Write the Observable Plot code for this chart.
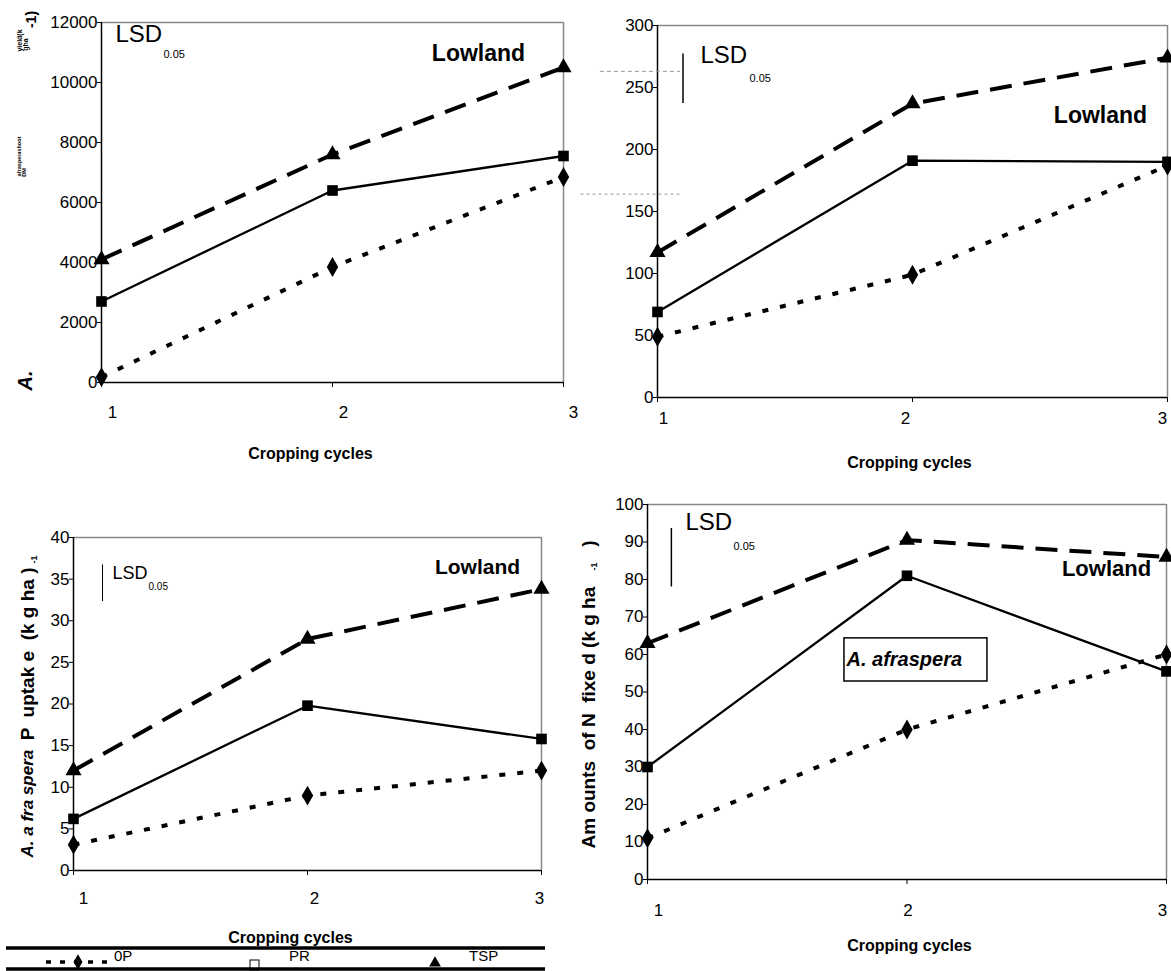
<!DOCTYPE html>
<html>
<head>
<meta charset="utf-8">
<script src="https://cdn.jsdelivr.net/npm/d3@7"></script>
<script src="https://cdn.jsdelivr.net/npm/@observablehq/plot@0.6"></script>
<style>
  html, body { margin: 0; padding: 0; background: #fff; }
  #wrap { position: relative; width: 1171px; height: 971px; overflow: hidden; font-family: "Liberation Sans", Arial, sans-serif; }
  .panel { position: absolute; }
  .panel svg { overflow: visible; }
  .panel svg text { white-space: pre; }
  #legend { position: absolute; left: 0; top: 0; pointer-events: none; }
</style>
</head>
<body>
<div id="wrap"></div>
<script>
// ---------------- data ----------------
const cycles = [1, 2, 3];
const treatments = ["0P", "PR", "TSP"];

// Panel A: A. afraspera shoot DM yield (kg ha-1)
const yieldTicks = [0, 2000, 4000, 6000, 8000, 10000, 12000];
const yield0P  = [180, 3850, 6850];
const yieldPR  = [2700, 6400, 7550];
const yieldTSP = [4100, 7600, 10500];

// Panel B (top right)
const panelBTicks = [0, 50, 100, 150, 200, 250, 300];
const panelB0P  = [49, 99, 187];
const panelBPR  = [69, 191, 190];
const panelBTSP = [117, 237, 274];
const panelBLSD = [237, 277];

// Panel C: A. afraspera P uptake (kg ha-1)
const uptakeTicks = [0, 5, 10, 15, 20, 25, 30, 35, 40];
const uptake0P  = [3.1, 9.0, 12.0];
const uptakePR  = [6.2, 19.8, 15.8];
const uptakeTSP = [12.0, 27.8, 33.8];
const uptakeLSD = [32.3, 36.7];

// Panel D: Amounts of N fixed (kg ha-1)
const nfixTicks = [0, 10, 20, 30, 40, 50, 60, 70, 80, 90, 100];
const nfix0P  = [11, 40, 60];
const nfixPR  = [30, 81, 55.5];
const nfixTSP = [63, 90.5, 86];
const nfixLSD = [78, 93.6];

// ---------------- helpers ----------------
const FONT = "Liberation Sans, Arial, sans-serif";
const tidy = (a, b, c) => [a, b, c].flatMap((vals, i) =>
  vals.map((v, j) => ({cycle: cycles[j], treatment: treatments[i], value: v})));

const lineStyle = {
  "0P":  {strokeWidth: 4,   strokeDasharray: "6,12"},
  "PR":  {strokeWidth: 2.3, strokeDasharray: null},
  "TSP": {strokeWidth: 4,   strokeDasharray: "22,12"}
};

function makePanel(P) {
  const rows = tidy(...P.series);
  const note = (text, px, py, o = {}) => Plot.text([text], {
    text: d => d, frameAnchor: "top-left",
    dx: px - P.left - P.mL, dy: py - P.top - P.mT,
    textAnchor: "middle", lineAnchor: "middle",
    fontSize: 16, fill: "#000", fontFamily: FONT, ...o
  });
  const xLabel = (c, dx) => Plot.text([String(c)], {
    text: d => d, x: () => c, frameAnchor: "bottom", dx, dy: P.xLabelDy,
    lineAnchor: "middle", textAnchor: "middle",
    fontSize: 17, fill: "#000", fontFamily: FONT
  });
  const marks = [
    Plot.ruleY([P.yMax], {stroke: "#888", strokeWidth: 1.5}),
    Plot.ruleX([3], {stroke: "#888", strokeWidth: 1.5}),
    Plot.ruleX([1], {stroke: "#000", strokeWidth: 1.5}),
    Plot.ruleY([0], {stroke: "#000", strokeWidth: 1.5}),
    Plot.axisY({ticks: P.yTicks, tickSize: 4, tickPadding: 0, label: null, fontSize: 17, tickFormat: d => String(d)}),
    Plot.axisX({ticks: cycles, tickSize: 5, tickFormat: () => "", label: null}),
    ...cycles.map((c, i) => xLabel(c, P.xLabelDx[i])),
    ...(P.extraBefore ? P.extraBefore(note) : []),
    ...treatments.map(t => Plot.line(rows.filter(d => d.treatment === t), {
      x: "cycle", y: "value", stroke: "#000", strokeLinecap: "butt", strokeLinejoin: "miter",
      ...lineStyle[t]
    })),
    Plot.dot(rows, {x: "cycle", y: "value", symbol: "treatment", fill: "#000", stroke: null, r: 6}),
    ...(P.extra ? P.extra(note) : [])
  ];
  const svg = Plot.plot({
    width: P.width, height: P.height,
    marginLeft: P.mL, marginRight: P.mR, marginTop: P.mT, marginBottom: P.mB,
    x: {domain: [1, 3], axis: null},
    y: {domain: [0, P.yMax], axis: null},
    symbol: {domain: treatments, range: ["diamond", "square", "triangle"]},
    style: {background: "transparent", overflow: "visible", fontFamily: FONT, fontSize: "17px", color: "#000"},
    marks
  });
  const div = document.createElement("div");
  div.className = "panel";
  div.style.left = P.left + "px";
  div.style.top = P.top + "px";
  div.appendChild(svg);
  document.getElementById("wrap").appendChild(div);
}

const lsdText = (note, x, y, size, x2, y2, size2) => [
  note("LSD", x, y, {textAnchor: "start", fontSize: size}),
  note("0.05", x2, y2, {textAnchor: "start", fontSize: size2})
];
const lowland = (note, x, y, size) => note("Lowland", x, y, {fontWeight: "bold", fontSize: size});
const cropping = (note, x, y) => note("Cropping cycles", x, y, {fontWeight: "bold", fontSize: 16});

// ---------------- Panel A ----------------
makePanel({
  left: 0, top: 0, width: 580, height: 470, mL: 101, mR: 17, mT: 22, mB: 88,
  yMax: 12000, yTicks: yieldTicks, series: [yield0P, yieldPR, yieldTSP],
  xLabelDx: [11, 11, 10], xLabelDy: 30,
  extra: note => [
    ...lsdText(note, 115, 34, 24, 163, 54, 11),
    lowland(note, 478, 53, 23),
    cropping(note, 310, 453),
    note("A.", 25, 380, {rotate: -90, fontWeight: "bold", fontStyle: "italic", fontSize: 20}),
    note("afrasperashoot", 19, 156, {rotate: -90, fontWeight: "bold", fontSize: 5.5}),
    note("DM", 24, 172, {rotate: -90, fontWeight: "bold", fontSize: 5.5}),
    note("yield(k", 19, 40, {rotate: -90, fontWeight: "bold", fontSize: 7}),
    note("gha", 25, 44, {rotate: -90, fontWeight: "bold", fontSize: 7}),
    note("-1)", 31, 19, {rotate: -90, fontWeight: "bold", fontSize: 14})
  ]
});

// ---------------- Panel B ----------------
makePanel({
  left: 580, top: 0, width: 591, height: 470, mL: 77, mR: 4, mT: 25, mB: 73,
  yMax: 300, yTicks: panelBTicks, series: [panelB0P, panelBPR, panelBTSP],
  xLabelDx: [6, -7, -5], xLabelDy: 21,
  extraBefore: () => [
    Plot.ruleY([263], {x1: () => 0.776, x2: () => 1.09, stroke: "#999", strokeWidth: 1, strokeDasharray: "4,3"}),
    Plot.ruleY([164], {x1: () => 0.70, x2: () => 1.09, stroke: "#999", strokeWidth: 1, strokeDasharray: "3,3"})
  ],
  extra: note => [
    Plot.ruleX([1.10], {y1: () => panelBLSD[0], y2: () => panelBLSD[1], stroke: "#000", strokeWidth: 1.5}),
    ...lsdText(note, 700, 55, 24, 749, 78, 11),
    lowland(note, 1100, 115, 23),
    cropping(note, 909, 462)
  ]
});

// ---------------- Panel C ----------------
makePanel({
  left: 0, top: 470, width: 580, height: 501, mL: 73, mR: 39, mT: 67, mB: 101,
  yMax: 40, yTicks: uptakeTicks, series: [uptake0P, uptakePR, uptakeTSP],
  xLabelDx: [10, 7, -2], xLabelDy: 28,
  extra: note => [
    Plot.ruleX([1.124], {y1: () => uptakeLSD[0], y2: () => uptakeLSD[1], stroke: "#000", strokeWidth: 1}),
    ...lsdText(note, 112, 573, 18, 148, 586, 10),
    lowland(note, 477, 567, 21),
    cropping(note, 290, 937),
    note("A. a fra spera", 27, 857, {rotate: -90, textAnchor: "start", fontWeight: "bold", fontStyle: "italic", fontSize: 17}),
    note("P  uptak e  (k g ha )", 27, 567, {rotate: -90, textAnchor: "end", fontWeight: "bold", fontSize: 19}),
    note("-1", 34, 559, {rotate: -90, fontWeight: "bold", fontSize: 9})
  ]
});

// ---------------- Panel D ----------------
makePanel({
  left: 580, top: 470, width: 591, height: 501, mL: 67, mR: 5, mT: 34, mB: 92,
  yMax: 100, yTicks: nfixTicks, series: [nfix0P, nfixPR, nfixTSP],
  xLabelDx: [11, 1, -4], xLabelDy: 31,
  extra: note => [
    Plot.ruleX([1.092], {y1: () => nfixLSD[0], y2: () => nfixLSD[1], stroke: "#000", strokeWidth: 1.5}),
    ...lsdText(note, 685, 522, 24, 733, 546, 11),
    lowland(note, 1106, 568, 22),
    cropping(note, 909, 945),
    Plot.rect([0], {x1: () => 1.759, x2: () => 2.31, y1: () => 52.8, y2: () => 64.3, fill: "#fff", stroke: "#000", strokeWidth: 1.5}),
    note("A. afraspera", 846, 659, {textAnchor: "start", fontWeight: "bold", fontStyle: "italic", fontSize: 20}),
    note("Am ounts  of N  fixe d (k g ha", 588, 848, {rotate: -90, textAnchor: "start", fontWeight: "bold", fontSize: 19}),
    note("-1", 594, 566, {rotate: -90, fontWeight: "bold", fontSize: 9}),
    note(")", 588, 543, {rotate: -90, fontWeight: "bold", fontSize: 19})
  ]
});

// ---------------- Legend (below panel C) ----------------
const leg = d3.select("#wrap").append("svg").attr("id", "legend").attr("width", 1171).attr("height", 971);
leg.append("line").attr("x1", 6).attr("x2", 545).attr("y1", 948).attr("y2", 948).attr("stroke", "#000").attr("stroke-width", 3.5);
leg.append("line").attr("x1", 6).attr("x2", 545).attr("y1", 969).attr("y2", 969).attr("stroke", "#000").attr("stroke-width", 3.5);
const legendItems = [
  {label: treatments[0], textX: 114},
  {label: treatments[1], textX: 289},
  {label: treatments[2], textX: 469}
];
leg.append("line").attr("x1", 46).attr("x2", 107).attr("y1", 962).attr("y2", 962)
  .attr("stroke", "#000").attr("stroke-width", 3.5).attr("stroke-dasharray", "5,9");
leg.append("path").attr("d", d3.symbol(d3.symbolDiamond, 70)()).attr("transform", "translate(78,962)").attr("fill", "#000");
leg.append("rect").attr("x", 250).attr("y", 960).attr("width", 9).attr("height", 10).attr("fill", "none").attr("stroke", "#000").attr("stroke-width", 1);
leg.append("path").attr("d", d3.symbol(d3.symbolTriangle, 60)()).attr("transform", "translate(435,963)").attr("fill", "#000");
leg.selectAll("text.lg").data(legendItems).join("text").attr("class", "lg")
  .attr("x", d => d.textX).attr("y", 957).attr("dominant-baseline", "middle")
  .attr("font-family", FONT).attr("font-size", 15).text(d => d.label);
</script>
</body>
</html>
